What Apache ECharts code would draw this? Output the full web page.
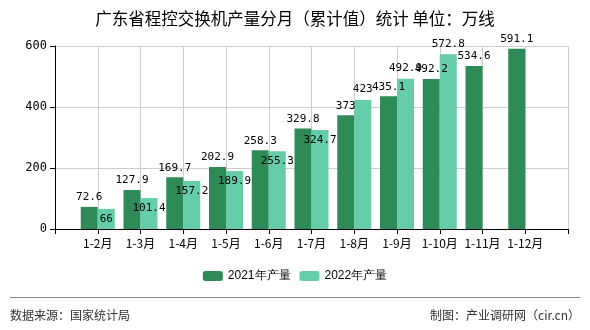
<!DOCTYPE html>
<html><head><meta charset="utf-8">
<script src="https://cdn.jsdelivr.net/npm/echarts@6/dist/echarts.min.js"></script>
<style>html,body{margin:0;padding:0;background:#fff}#c{width:590px;height:330px}</style>
</head><body><div id="c"></div>
<script>
var categories = ['1-2月','1-3月','1-4月','1-5月','1-6月','1-7月','1-8月','1-9月','1-10月','1-11月','1-12月'];
var s2021 = [72.6,127.9,169.7,202.9,258.3,329.8,373,435.1,492.2,534.6,591.1];
var s2022 = [66,101.4,157.2,189.9,255.3,324.7,423,492.9,572.8];
var yTicks = [0,200,400,600];
var seriesNames = ['2021年产量','2022年产量'];

var cats = [''].concat(categories).concat(['']);
function pad(a){var r=[null].concat(a);while(r.length<cats.length)r.push(null);return r;}
var monoFont = 'DejaVu Sans Mono';
var d2022 = pad(s2022).map(function(v,i){
  if(v===null) return null;
  return {value:v,label:{position:(i>=7?'top':'insideTop')}};
});
var chart = echarts.init(document.getElementById('c'));
chart.setOption({
  animation:false,
  title:{text:'广东省程控交换机产量分月（累计值）统计 单位：万线',left:'center',top:5,
    textStyle:{fontSize:16.5,fontWeight:'normal',color:'#000',fontFamily:'Noto Sans CJK SC'}},
  grid:{left:55,right:22,top:46,bottom:101},
  legend:{bottom:43,left:'center',itemWidth:20,itemHeight:10,itemGap:9,
    textStyle:{fontSize:12,color:'#000',fontFamily:'Liberation Sans'},data:seriesNames},
  xAxis:{type:'category',data:cats,boundaryGap:false,
    axisLine:{lineStyle:{color:'#000'}},axisTick:{interval:0,lineStyle:{color:'#000'}},
    axisLabel:{interval:0,color:'#000',fontSize:12,fontFamily:'Noto Sans CJK SC'},
    splitLine:{show:true,interval:0,lineStyle:{color:'#ccc'}}},
  yAxis:{type:'value',min:yTicks[0],max:yTicks[yTicks.length-1],interval:200,
    axisLine:{show:true,lineStyle:{color:'#000'}},axisTick:{show:true,lineStyle:{color:'#000'}},
    axisLabel:{color:'#000',fontSize:12,fontFamily:monoFont},
    splitLine:{lineStyle:{color:'#ccc'}}},
  series:[
    {name:seriesNames[0],type:'bar',data:pad(s2021),barWidth:17,barGap:'0%',
     itemStyle:{color:'#2E8B57'},
     label:{show:true,position:'top',distance:4,color:'#000',fontSize:11,fontFamily:monoFont}},
    {name:seriesNames[1],type:'bar',data:d2022,barWidth:17,
     itemStyle:{color:'#66CDAA'},
     label:{show:true,position:'insideTop',color:'#000',fontSize:11,fontFamily:monoFont}}
  ],
  graphic:[
    {type:'line',shape:{x1:10,y1:297.5,x2:580,y2:297.5},style:{stroke:'#888',lineWidth:1}},
    {type:'text',left:10,top:309,style:{text:'数据来源：国家统计局',fontSize:12,fill:'#333',fontFamily:'Noto Sans CJK SC'}},
    {type:'text',right:10,top:309,style:{text:'制图：产业调研网（cir.cn）',fontSize:12,fill:'#333',fontFamily:'Noto Sans CJK SC'}}
  ]
});
</script></body></html>
